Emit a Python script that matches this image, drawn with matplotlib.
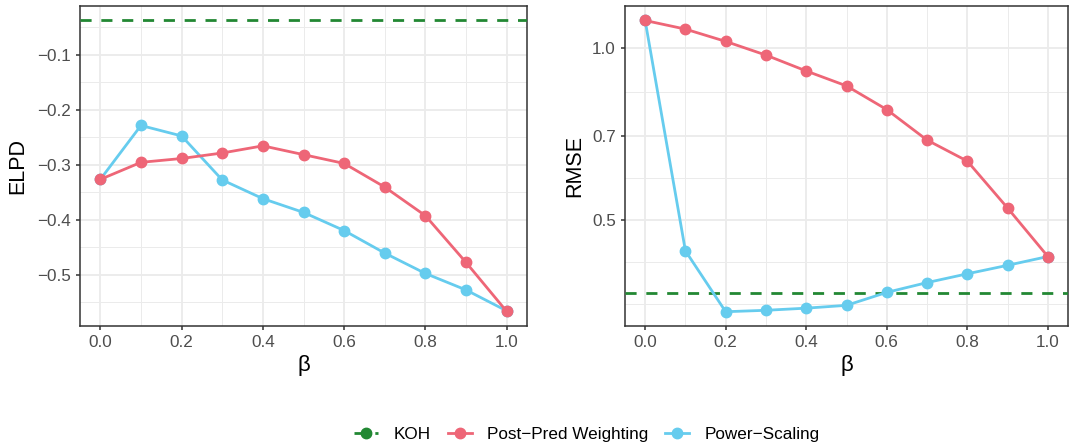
import numpy as np
import matplotlib
matplotlib.use("Agg")
import matplotlib.pyplot as plt
from matplotlib.lines import Line2D
from matplotlib.ticker import FixedLocator, NullFormatter

plt.rcParams['font.family'] = ['Liberation Sans', 'DejaVu Sans']

# ---- values ----
beta = [0.0, 0.1, 0.2, 0.3, 0.4, 0.5, 0.6, 0.7, 0.8, 0.9, 1.0]

elpd_postpred = [-0.327, -0.296, -0.289, -0.279, -0.266, -0.282, -0.298, -0.341, -0.393, -0.478, -0.567]
elpd_power = [-0.327, -0.229, -0.248, -0.328, -0.362, -0.387, -0.420, -0.461, -0.498, -0.528, -0.566]
elpd_koh = -0.038

rmse_postpred = [1.116, 1.078, 1.026, 0.971, 0.911, 0.858, 0.780, 0.690, 0.634, 0.525, 0.432]
rmse_power = [1.116, 0.442, 0.346, 0.348, 0.351, 0.355, 0.374, 0.389, 0.403, 0.417, 0.432]
rmse_koh = 0.373

rmse_ticks = [0.5, 0.7, 1.0]

red = '#EE6677'
blue = '#66CCEE'
green = '#228833'

fig = plt.figure(figsize=(10.84, 4.48), dpi=100)
ax1 = fig.add_axes([80 / 1084, 1 - 326 / 448, 447 / 1084, 320 / 448])
ax2 = fig.add_axes([625 / 1084, 1 - 326 / 448, 443 / 1084, 320 / 448])


def style(ax):
    ax.set_facecolor('white')
    for s in ax.spines.values():
        s.set_color('#333333')
        s.set_linewidth(1.1)
    ax.tick_params(axis='both', which='major', direction='out', length=3.2, width=1.1,
                   color='#333333', labelcolor='#4D4D4D', labelsize=12.3, pad=3.5)
    ax.tick_params(axis='both', which='minor', length=0)
    ax.grid(True, which='major', color='#EBEBEB', linewidth=1.3, zorder=0)
    ax.grid(True, which='minor', color='#EBEBEB', linewidth=0.7, zorder=0)
    ax.set_axisbelow(True)
    ax.set_xlim(-0.05, 1.05)
    ax.xaxis.set_major_locator(FixedLocator([0.0, 0.2, 0.4, 0.6, 0.8, 1.0]))
    ax.xaxis.set_minor_locator(FixedLocator([0.1, 0.3, 0.5, 0.7, 0.9]))
    ax.set_xticklabels(['0.0', '0.2', '0.4', '0.6', '0.8', '1.0'])
    ax.set_xlabel('β', fontsize=16)
    ax.xaxis.label.set_va('center')
    ax.xaxis.set_label_coords(0.5, -0.125)


def draw(ax, koh, postpred, power):
    ax.axhline(koh, color=green, linewidth=2.0, linestyle=(0, (4, 3.5)), zorder=3)
    ax.plot(beta, postpred, color=red, linewidth=2.0, marker='o', markersize=7.5, zorder=4)
    ax.plot(beta, power, color=blue, linewidth=2.0, marker='o', markersize=7.5, zorder=3.5)


# left panel: ELPD
style(ax1)
draw(ax1, elpd_koh, elpd_postpred, elpd_power)
ax1.set_ylim(-0.5935, -0.0118)
ax1.yaxis.set_major_locator(FixedLocator([-0.5, -0.4, -0.3, -0.2, -0.1]))
ax1.yaxis.set_minor_locator(FixedLocator([-0.55, -0.45, -0.35, -0.25, -0.15, -0.05]))
ax1.set_yticklabels(['\u22120.5', '\u22120.4', '\u22120.3', '\u22120.2', '\u22120.1'])
ax1.set_ylabel('ELPD', fontsize=15.5)
ax1.yaxis.set_label_coords(-0.139, 0.5)
ax1.yaxis.label.set_va('center')

# right panel: RMSE on log scale
style(ax2)
draw(ax2, rmse_koh, rmse_postpred, rmse_power)
ax2.set_yscale('log')
ax2.set_ylim(0.3267, 1.183)
ax2.yaxis.set_major_locator(FixedLocator(rmse_ticks))
step = rmse_ticks[1] / rmse_ticks[0]
minor = [np.sqrt(rmse_ticks[0] * rmse_ticks[1]), np.sqrt(rmse_ticks[1] * rmse_ticks[2]),
         rmse_ticks[0] / np.sqrt(step), rmse_ticks[0] / step]
ax2.yaxis.set_minor_locator(FixedLocator(minor))
ax2.yaxis.set_minor_formatter(NullFormatter())
ax2.set_yticklabels(['0.5', '0.7', '1.0'])
ax2.set_ylabel('RMSE', fontsize=15.5)
ax2.yaxis.set_label_coords(-0.113, 0.5)
ax2.yaxis.label.set_va('center')

handles = [
    Line2D([], [], color=green, linewidth=2.0, linestyle=(0, (4, 3.5)), marker='o', markersize=7.5),
    Line2D([], [], color=red, linewidth=2.0, marker='o', markersize=7.5),
    Line2D([], [], color=blue, linewidth=2.0, marker='o', markersize=7.5),
]
fig.legend(handles, ['KOH', 'Post\u2212Pred Weighting', 'Power\u2212Scaling'],
           loc='center', bbox_to_anchor=(0.5415, 1 - 434 / 448), ncol=3, frameon=False,
           fontsize=12.3, handlelength=1.4, handletextpad=0.9, columnspacing=1.0)

fig.savefig('out.png', dpi=100, facecolor='white')
